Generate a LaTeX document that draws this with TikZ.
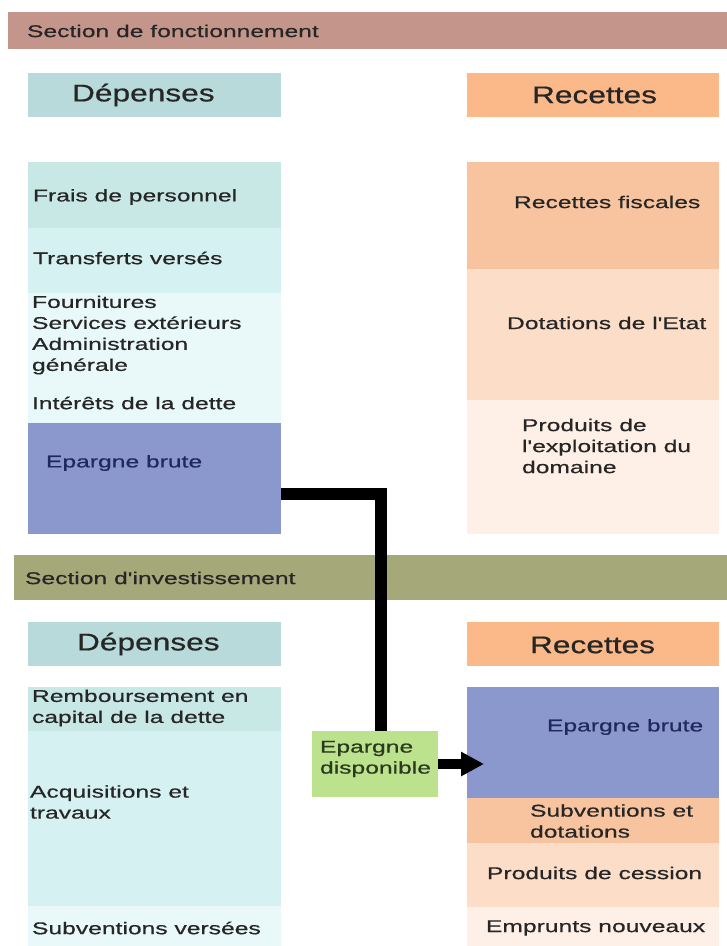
\documentclass[tikz,border=0pt]{standalone}
\usepackage{fontspec}
\setmainfont{Liberation Sans}
\newfontfamily\bodyfont[FakeStretch=1.45,FakeBold=0.6]{Liberation Sans}
\newfontfamily\headfont[FakeStretch=1.32,FakeBold=0.6]{Liberation Sans}
\usetikzlibrary{arrows.meta}
\definecolor{banA}{HTML}{C4968B}
\definecolor{banB}{HTML}{A5A878}
\definecolor{hdep}{HTML}{B8DADB}
\definecolor{hrec}{HTML}{FBB98A}
\definecolor{tealA}{HTML}{C8E8E6}
\definecolor{tealB}{HTML}{D6F1F2}
\definecolor{tealC}{HTML}{E9F8F9}
\definecolor{blueE}{HTML}{8A98CE}
\definecolor{orA}{HTML}{F8C49F}
\definecolor{orB}{HTML}{FCDDC8}
\definecolor{orC}{HTML}{FEF0E6}
\definecolor{greenD}{HTML}{BDE28E}
\definecolor{textc}{HTML}{262626}
\definecolor{navy}{HTML}{1F2A5C}
\definecolor{dgreen}{HTML}{2B3A1E}
\begin{document}
\begin{tikzpicture}[x=1pt,y=-1pt,
  box/.style={draw=none, inner sep=0pt, outer sep=0pt, anchor=north west},
  txt/.style={inner sep=0pt, outer sep=0pt, anchor=west, align=left, text=textc,
    font=\bodyfont\fontsize{17}{21}\selectfont},
  htxt/.style={inner sep=0pt, outer sep=0pt, anchor=west, text=textc,
    font=\headfont\fontsize{24}{28}\selectfont},
  flow/.style={line width=12pt, line cap=butt, line join=miter, draw=black},
  flowarrow/.style={line width=10pt, line cap=butt, draw=black,
    -{Triangle[length=23pt,width=23pt]}}]
\useasboundingbox[fill=white] (0,0) rectangle (727,946);

% ---- Section de fonctionnement
\node[box, fill=banA, minimum width=719pt, minimum height=37pt] (banA) at (8,12) {};
\node[txt] (tbanA) at (27,31) {Section de fonctionnement};

\node[box, fill=hdep, minimum width=253pt, minimum height=44pt] (hdepA) at (28,73) {};
\node[htxt] (thdepA) at (72,95) {Dépenses};
\node[box, fill=hrec, minimum width=252pt, minimum height=44pt] (hrecA) at (467,73) {};
\node[htxt] (threcA) at (532,95) {Recettes};

% left column
\node[box, fill=tealA, minimum width=253pt, minimum height=66pt] (frais) at (28,162) {};
\node[txt] (tfrais) at (33,197) {Frais de personnel};
\node[box, fill=tealB, minimum width=253pt, minimum height=65pt] (transf) at (28,228) {};
\node[txt] (ttransf) at (33,258) {Transferts versés};
\node[box, fill=tealC, minimum width=253pt, minimum height=90pt] (fourn) at (28,293) {};
\node[txt] (tfourn) at (32,335) {Fournitures\\Services extérieurs\\Administration\\générale};
\node[box, fill=tealC, minimum width=253pt, minimum height=40pt] (inter) at (28,383) {};
\node[txt] (tinter) at (32,403) {Intérêts de la dette};
\node[box, fill=blueE, minimum width=253pt, minimum height=111pt] (ebA) at (28,423) {};
\node[txt, text=navy] (tebA) at (46,463) {Epargne brute};

% right column
\node[box, fill=orA, minimum width=252pt, minimum height=107pt] (fisc) at (467,162) {};
\node[txt] (tfisc) at (514,202) {Recettes fiscales};
\node[box, fill=orB, minimum width=252pt, minimum height=131pt] (dot) at (467,269) {};
\node[txt] (tdot) at (507,323) {Dotations de l'Etat};
\node[box, fill=orC, minimum width=252pt, minimum height=134pt] (prod) at (467,400) {};
\node[txt] (tprod) at (522,446) {Produits de\\l'exploitation du\\domaine};

% ---- Section d'investissement
\node[box, fill=banB, minimum width=713pt, minimum height=45pt] (banB) at (14,555) {};
\node[txt] (tbanB) at (25,578) {Section d'investissement};

\node[box, fill=hdep, minimum width=253pt, minimum height=44pt] (hdepB) at (28,622) {};
\node[htxt] (thdepB) at (77,644) {Dépenses};
\node[box, fill=hrec, minimum width=252pt, minimum height=44pt] (hrecB) at (467,622) {};
\node[htxt] (threcB) at (530,645) {Recettes};

% left column
\node[box, fill=tealA, minimum width=253pt, minimum height=44pt] (rembt) at (28,687) {};
\node[txt] (trembt) at (32,708) {Remboursement en\\capital de la dette};
\node[box, fill=tealB, minimum width=253pt, minimum height=175pt] (acq) at (28,731) {};
\node[txt] (tacq) at (30,802) {Acquisitions et\\travaux};
\node[box, fill=tealC, minimum width=253pt, minimum height=40pt] (subv) at (28,906) {};
\node[txt] (tsubv) at (32,928) {Subventions versées};

% right column
\node[box, fill=blueE, minimum width=252pt, minimum height=111pt] (ebB) at (467,687) {};
\node[txt, text=navy] (tebB) at (547,727) {Epargne brute};
\node[box, fill=orA, minimum width=252pt, minimum height=45pt] (subdot) at (467,798) {};
\node[txt] (tsubdot) at (530,821) {Subventions et\\dotations};
\node[box, fill=orB, minimum width=252pt, minimum height=64pt] (cess) at (467,843) {};
\node[txt] (tcess) at (487,873) {Produits de cession};
\node[box, fill=orC, minimum width=252pt, minimum height=39pt] (empr) at (467,907) {};
\node[txt] (tempr) at (486,928) {Emprunts nouveaux};

% Epargne disponible
\node[box, fill=greenD, minimum width=126pt, minimum height=66pt] (dispo) at (312,731) {};
\node[txt, text=dgreen] (tdispo) at (320,759) {Epargne\\disponible};

% connectors
\coordinate (bend) at (381,494);
\coordinate (tip) at (484,764);
\draw[flow] (ebA.east |- bend) -- (bend) -- (bend |- dispo.north);
\draw[flowarrow] (dispo.east) -- (tip);
\end{tikzpicture}
\end{document}
